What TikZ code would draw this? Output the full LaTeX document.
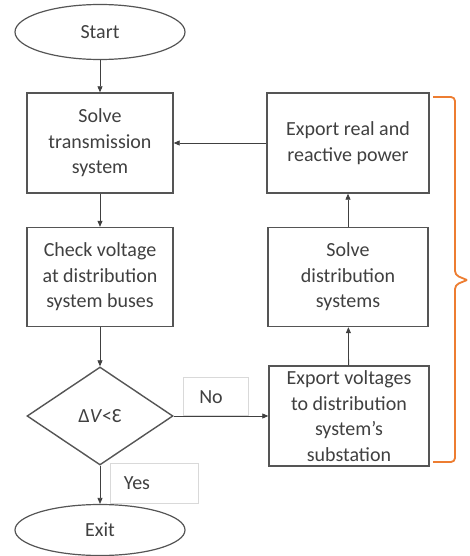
\documentclass[tikz,border=0pt]{standalone}
\usepackage{fontspec}
\setmainfont{Carlito}
\usetikzlibrary{shapes.geometric,arrows.meta}
\definecolor{ink}{RGB}{64,64,64}
\definecolor{edge}{RGB}{85,85,85}
\definecolor{bracecol}{RGB}{237,125,49}
\begin{document}
\begin{tikzpicture}[x=1pt,y=-1pt,
  every node/.style={font=\fontsize{20}{25.5}\selectfont, text=ink},
  procbox/.style={draw=edge, line width=1.4pt, rectangle, align=center, inner sep=0pt},
  term/.style={draw=edge, line width=1.2pt, ellipse, inner sep=0pt},
  decide/.style={draw=edge, line width=1.4pt, diamond, inner sep=0pt},
  tag/.style={draw=black!15, line width=0.6pt, rectangle, inner sep=0pt},
  flow/.style={draw=ink, line width=0.8pt, -{Triangle[length=6pt,width=5pt]}}]
\useasboundingbox (0,0) rectangle (470,556);
\fill[white] (0,0) rectangle (470,556);

% main column
\node[term, minimum width=170, minimum height=55] (start) at (100,32) {Start};
\node[procbox, minimum width=146, minimum height=100] (solve) at (100,143) {Solve\\transmission\\system};
\node[procbox, minimum width=146, minimum height=99] (check) at (100,277) {Check voltage\\at distribution\\system buses};
\node[decide, minimum width=146, minimum height=98] (dec) at (100,416) {Δ\textit{V}<Ɛ};
\node[term, minimum width=170, minimum height=51] (exit) at (100,530) {Exit};

% distribution column
\node[procbox, minimum width=160, minimum height=100] (expv) at (349,416) {Export voltages\\to distribution\\system's\\substation};
\node[procbox, minimum width=160, minimum height=99] (solvd) at (348,277) {Solve\\distribution\\systems};
\node[procbox, minimum width=162, minimum height=100] (expp) at (348,143) {Export real and\\reactive power};

% branch labels
\node[tag, minimum width=65, minimum height=38] (notag) at (215.5,396) {};
\node at (211,397) {No};
\node[tag, minimum width=88, minimum height=40] (yestag) at (154,483) {};
\node at (137,483) {Yes};

% connectors
\draw[flow] (start) -- (solve);
\draw[flow] (solve) -- (check);
\draw[flow] (check) -- (dec);
\draw[flow] (dec) -- (exit);
\draw[flow] (dec.east) -- (expv.west);
\draw[flow] (expv) -- (solvd);
\draw[flow] (solvd) -- (expp);
\draw[flow] (expp.west) -- (solve.east);

% brace grouping the distribution steps
\draw[bracecol, line width=1.8pt, rounded corners=4pt]
  (433,97) -- (455,97) -- (455,275) -- (467,280);
\draw[bracecol, line width=1.8pt, rounded corners=4pt]
  (467,280) -- (455,285) -- (455,462) -- (433,462);
\end{tikzpicture}
\end{document}
